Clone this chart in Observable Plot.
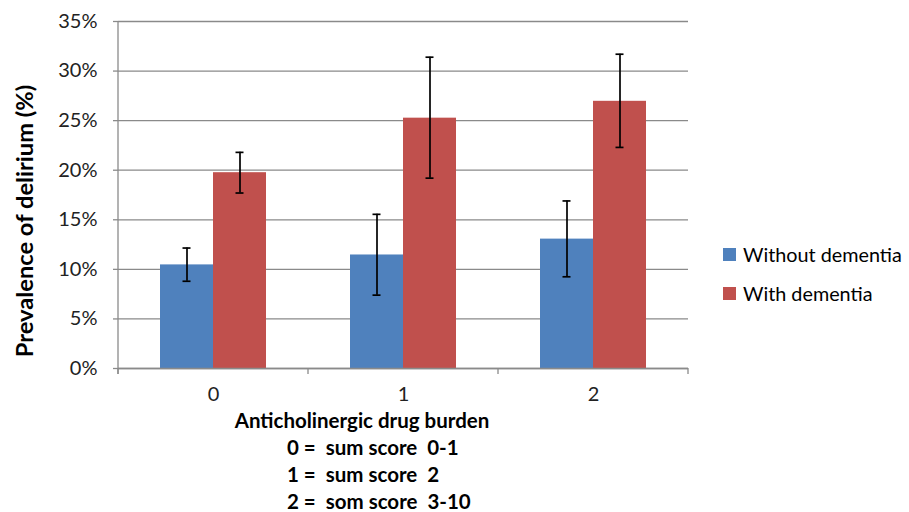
<!DOCTYPE html>
<html><head><meta charset="utf-8">
<script src="https://cdn.jsdelivr.net/npm/d3@7"></script>
<script src="https://cdn.jsdelivr.net/npm/@observablehq/plot@0.6"></script>
<style>
body{margin:0;background:#fff;}
#wrap{position:relative;width:909px;height:512px;font-family:Lato, "Open Sans", sans-serif;color:#000;overflow:hidden;}
#wrap svg{position:absolute;left:0;top:0;}
.legend{position:absolute;left:723px;top:242px;font-size:19.8px;}
.legend .row{display:flex;align-items:center;height:24px;margin-bottom:15px;white-space:nowrap;}
.legend .sw{width:13px;height:13px;margin-right:7px;}
.xtitle{position:absolute;left:0;top:410px;width:909px;font-weight:bold;font-size:20.5px;}
.xtitle div{position:absolute;white-space:pre;line-height:21px;}
.ytitle{position:absolute;left:24px;top:221px;transform:translate(-50%,-50%) rotate(-90deg);font-weight:bold;font-size:23.7px;white-space:nowrap;}
</style></head><body><div id="wrap"></div>
<script>
const categories = ["0", "1", "2"];
const seriesNames = ["Without dementia", "With dementia"];
const withoutDementia = [10.45, 11.45, 13.05];
const withDementia = [19.75, 25.25, 26.95];
const withoutLow = [8.8, 7.4, 9.25];
const withoutHigh = [12.15, 15.55, 16.9];
const withLow = [17.7, 19.2, 22.3];
const withHigh = [21.8, 31.4, 31.7];
const yTicks = [0, 5, 10, 15, 20, 25, 30, 35];
const seriesColors = ["#4F81BD", "#C0504D"];
const yTitle = "Prevalence of delirium (%)";
const xTitleLines = ["Anticholinergic drug burden", "0 =  sum score  0-1", "1 =  sum score  2", "2 =  som score  3-10"];

const rows = [];
categories.forEach((c, i) => {
  rows.push({cat: c, series: seriesNames[0], value: withoutDementia[i], lo: withoutLow[i], hi: withoutHigh[i]});
  rows.push({cat: c, series: seriesNames[1], value: withDementia[i], lo: withLow[i], hi: withHigh[i]});
});
const errEnds = rows.flatMap(r => [{cat: r.cat, series: r.series, v: r.lo}, {cat: r.cat, series: r.series, v: r.hi}]);

const gridColor = "#8a8a8a";
const plot = Plot.plot({
  width: 909, height: 410,
  marginLeft: 117, marginRight: 221, marginTop: 21, marginBottom: 42,
  style: {fontFamily: "Lato, 'Open Sans', sans-serif", background: "transparent"},
  fx: {domain: categories, padding: 0, label: null, axis: null},
  x: {domain: seriesNames, paddingInner: 0, paddingOuter: 0.76, axis: null},
  y: {domain: [0, 35], label: null},
  color: {domain: seriesNames, range: seriesColors},
  marks: [
    Plot.gridY(yTicks, {stroke: gridColor, strokeOpacity: 1, strokeWidth: 1.3}),
    Plot.barY(rows, {fx: "cat", x: "series", y: "value", fill: "series"}),
    Plot.ruleX(rows, {fx: "cat", x: "series", y1: "lo", y2: "hi", stroke: "#000", strokeWidth: 1.7}),
    Plot.tickY(errEnds, {fx: "cat", x: "series", y: "v", stroke: "#000", strokeWidth: 1.7, insetLeft: 22.5, insetRight: 22.5}),
    Plot.ruleY([0], {stroke: gridColor, strokeWidth: 1.3}),
    Plot.axisY(yTicks, {tickSize: 5, tickPadding: 16, stroke: gridColor, strokeWidth: 1.3, tickFormat: d => d + "%", fontSize: 20, fill: "#222", label: null}),
    Plot.axisFx({anchor: "bottom", tickSize: 0, tickPadding: 18, fontSize: 20, fill: "#222", label: null})
  ]
});

const wrap = document.getElementById("wrap");
wrap.appendChild(plot);

// Excel-style boundary ticks on the category axis and the value axis line, from the plot's own scales
const fx = plot.scale("fx");
const y = plot.scale("y");
const svg = d3.select(plot);
const y0 = y.apply(0), yTop = y.apply(35);
const bounds = categories.map(c => fx.apply(c));
bounds.push(fx.apply(categories[categories.length - 1]) + fx.bandwidth);
svg.append("g").selectAll("line").data(bounds).join("line")
  .attr("x1", d => d).attr("x2", d => d).attr("y1", y0).attr("y2", y0 + 6)
  .attr("stroke", gridColor).attr("stroke-width", 1.3);
svg.append("line").attr("x1", bounds[0]).attr("x2", bounds[0]).attr("y1", yTop).attr("y2", y0 + 6)
  .attr("stroke", gridColor).attr("stroke-width", 1.3);

// y title
const yt = document.createElement("div");
yt.className = "ytitle"; yt.textContent = yTitle; wrap.appendChild(yt);

// x title block
const xt = document.createElement("div");
xt.className = "xtitle";
xTitleLines.forEach((t, i) => {
  const d = document.createElement("div");
  d.textContent = t;
  d.style.top = (i * 27) + "px";
  if (i === 0) { d.style.left = "362px"; d.style.transform = "translateX(-50%)"; }
  else d.style.left = "287px";
  xt.appendChild(d);
});
wrap.appendChild(xt);

// legend
const lg = document.createElement("div");
lg.className = "legend";
seriesNames.forEach((s, i) => {
  const r = document.createElement("div"); r.className = "row";
  const sw = document.createElement("div"); sw.className = "sw"; sw.style.background = seriesColors[i];
  const tx = document.createElement("span"); tx.textContent = s;
  r.appendChild(sw); r.appendChild(tx); lg.appendChild(r);
});
wrap.appendChild(lg);
</script>
</body></html>
